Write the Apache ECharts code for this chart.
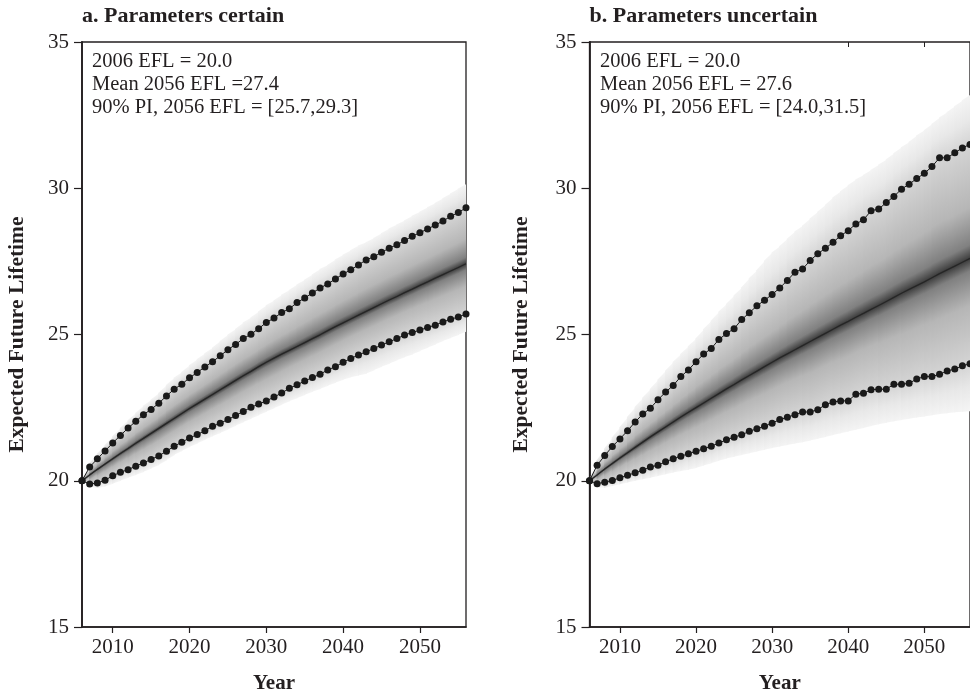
<!DOCTYPE html>
<html>
<head>
<meta charset="utf-8">
<title>Expected Future Lifetime</title>
<script src="https://cdn.jsdelivr.net/npm/echarts@6/dist/echarts.min.js"></script>
<style>
html, body { margin: 0; padding: 0; background: #fff; }
#chart { width: 970px; height: 699px; }
</style>
</head>
<body>
<div id="chart"></div>
<script>
// years of the projection (one dot per year)
var years = [2006, 2007, 2008, 2009, 2010, 2011, 2012, 2013, 2014, 2015,
    2016, 2017, 2018, 2019, 2020, 2021, 2022, 2023, 2024, 2025,
    2026, 2027, 2028, 2029, 2030, 2031, 2032, 2033, 2034, 2035,
    2036, 2037, 2038, 2039, 2040, 2041, 2042, 2043, 2044, 2045,
    2046, 2047, 2048, 2049, 2050, 2051, 2052, 2053, 2054, 2055, 2056];
var xTickValues = [2010, 2020, 2030, 2040, 2050];

// a. parameters certain
var aUpper = [20.00, 20.47, 20.75, 21.02, 21.29, 21.55, 21.80, 22.03, 22.26, 22.44,
    22.65, 22.90, 23.13, 23.30, 23.52, 23.70, 23.89, 24.07, 24.27, 24.48,
    24.66, 24.86, 25.01, 25.20, 25.41, 25.56, 25.75, 25.88, 26.09, 26.25,
    26.42, 26.59, 26.73, 26.90, 27.07, 27.21, 27.38, 27.55, 27.66, 27.81,
    27.95, 28.07, 28.21, 28.36, 28.48, 28.61, 28.74, 28.88, 29.04, 29.17, 29.33];
var aMean = [20.00, 20.20, 20.39, 20.57, 20.75, 20.93, 21.10, 21.28, 21.45, 21.62,
    21.79, 21.96, 22.13, 22.30, 22.47, 22.63, 22.79, 22.95, 23.11, 23.27,
    23.43, 23.59, 23.74, 23.90, 24.05, 24.19, 24.33, 24.46, 24.59, 24.72,
    24.86, 24.99, 25.13, 25.27, 25.40, 25.53, 25.66, 25.79, 25.92, 26.05,
    26.18, 26.30, 26.43, 26.55, 26.68, 26.80, 26.93, 27.05, 27.17, 27.29, 27.42];
var aLower = [20.00, 19.89, 19.92, 20.02, 20.17, 20.29, 20.38, 20.50, 20.61, 20.73,
    20.85, 21.01, 21.18, 21.32, 21.46, 21.58, 21.71, 21.86, 21.97, 22.09,
    22.23, 22.37, 22.51, 22.62, 22.73, 22.86, 23.00, 23.16, 23.28, 23.41,
    23.53, 23.64, 23.79, 23.90, 24.05, 24.18, 24.30, 24.41, 24.52, 24.64,
    24.75, 24.86, 24.98, 25.07, 25.15, 25.24, 25.32, 25.43, 25.52, 25.60, 25.70];
var aFanTop = [20.00, 20.60, 20.92, 21.22, 21.52, 21.80, 22.07, 22.32, 22.56, 22.77,
    23.00, 23.27, 23.52, 23.72, 23.95, 24.15, 24.36, 24.55, 24.78, 24.99,
    25.19, 25.41, 25.58, 25.79, 26.00, 26.16, 26.36, 26.52, 26.71, 26.87,
    27.05, 27.24, 27.38, 27.56, 27.73, 27.88, 28.04, 28.15, 28.30, 28.46,
    28.62, 28.76, 28.90, 29.06, 29.20, 29.35, 29.50, 29.66, 29.82, 29.98, 30.15];
var aFanBottom = [20.00, 19.80, 19.75, 19.80, 19.90, 20.00, 20.10, 20.20, 20.30, 20.42,
    20.54, 20.70, 20.88, 21.02, 21.15, 21.27, 21.40, 21.52, 21.63, 21.75,
    21.88, 22.00, 22.12, 22.24, 22.36, 22.48, 22.60, 22.72, 22.82, 22.93,
    23.04, 23.14, 23.25, 23.35, 23.45, 23.54, 23.60, 23.66, 23.78, 23.90,
    24.00, 24.12, 24.22, 24.32, 24.44, 24.55, 24.66, 24.78, 24.88, 24.98, 25.10];

// b. parameters uncertain
var bUpper = [20.00, 20.53, 20.86, 21.17, 21.43, 21.71, 22.01, 22.28, 22.48, 22.77,
    23.03, 23.26, 23.56, 23.79, 24.07, 24.33, 24.52, 24.83, 25.03, 25.20,
    25.51, 25.74, 25.98, 26.17, 26.37, 26.59, 26.85, 27.13, 27.24, 27.53,
    27.76, 27.95, 28.15, 28.38, 28.55, 28.78, 28.92, 29.23, 29.29, 29.51,
    29.72, 29.97, 30.14, 30.33, 30.51, 30.74, 31.04, 31.04, 31.21, 31.38, 31.50];
var bMean = [20.00, 20.20, 20.40, 20.59, 20.78, 20.96, 21.14, 21.32, 21.50, 21.67,
    21.84, 22.01, 22.18, 22.34, 22.50, 22.66, 22.82, 22.98, 23.14, 23.29,
    23.45, 23.60, 23.75, 23.90, 24.05, 24.20, 24.34, 24.48, 24.62, 24.76,
    24.90, 25.04, 25.18, 25.32, 25.45, 25.59, 25.72, 25.86, 25.99, 26.13,
    26.27, 26.41, 26.54, 26.67, 26.80, 26.94, 27.08, 27.21, 27.34, 27.47, 27.60];
var bLower = [20.00, 19.90, 19.95, 20.01, 20.10, 20.19, 20.27, 20.36, 20.47, 20.53,
    20.65, 20.75, 20.84, 20.92, 21.01, 21.09, 21.18, 21.29, 21.40, 21.49,
    21.57, 21.69, 21.78, 21.86, 21.97, 22.09, 22.17, 22.26, 22.35, 22.35,
    22.43, 22.60, 22.69, 22.73, 22.73, 22.96, 22.99, 23.11, 23.13, 23.13,
    23.30, 23.30, 23.33, 23.48, 23.56, 23.56, 23.64, 23.75, 23.82, 23.93, 24.00];
var bFanTop = [20.00, 20.70, 21.10, 21.48, 21.83, 22.18, 22.52, 22.84, 23.14, 23.45,
    23.76, 24.06, 24.33, 24.60, 24.86, 25.18, 25.47, 25.78, 26.04, 26.33,
    26.61, 26.92, 27.20, 27.52, 27.80, 28.02, 28.27, 28.52, 28.72, 28.97,
    29.20, 29.43, 29.68, 29.90, 30.10, 30.30, 30.45, 30.62, 30.80, 30.98,
    31.20, 31.40, 31.58, 31.80, 31.98, 32.20, 32.42, 32.60, 32.80, 33.00, 33.20];
var bFanBottom = [20.00, 19.78, 19.76, 19.82, 19.88, 19.94, 20.00, 20.05, 20.10, 20.16,
    20.22, 20.28, 20.33, 20.38, 20.44, 20.52, 20.60, 20.68, 20.76, 20.82,
    20.88, 20.94, 21.00, 21.06, 21.12, 21.17, 21.22, 21.27, 21.32, 21.38,
    21.44, 21.50, 21.56, 21.62, 21.68, 21.74, 21.80, 21.87, 21.93, 21.98,
    22.03, 22.08, 22.12, 22.16, 22.20, 22.24, 22.28, 22.31, 22.34, 22.36, 22.38];

var panelTitles = ['a. Parameters certain', 'b. Parameters uncertain'];
var aNotes = ['2006 EFL = 20.0', 'Mean 2056 EFL =27.4', '90% PI, 2056 EFL = [25.7,29.3]'];
var bNotes = ['2006 EFL = 20.0', 'Mean 2056 EFL = 27.6', '90% PI, 2056 EFL = [24.0,31.5]'];

var serif = "'Liberation Serif', 'DejaVu Serif', serif";
var ink = '#231f20';
var gridLeft = [82, 589.5];

function pairs(vals) {
    return years.map(function (y, i) { return [y, vals[i]]; });
}

// one row per yearly step of the fan
function fanRows(top, bottom, upper, mean, lower) {
    var rows = [];
    for (var i = 0; i < years.length - 1; i++) {
        rows.push([years[i], years[i + 1], top[i], top[i + 1], bottom[i], bottom[i + 1],
            upper[i], upper[i + 1], mean[i], mean[i + 1], lower[i], lower[i + 1]]);
    }
    return rows;
}

function renderFan(params, api) {
    var x0 = api.value(0), x1 = api.value(1);
    var t0 = api.coord([x0, api.value(2)]), t1 = api.coord([x1, api.value(3)]);
    var b0 = api.coord([x0, api.value(4)]), b1 = api.coord([x1, api.value(5)]);
    var m0 = api.coord([x0, api.value(8)]), m1 = api.coord([x1, api.value(9)]);
    var xm = (x0 + x1) / 2;
    function mid(k) {
        return api.coord([xm, (api.value(k) + api.value(k + 1)) / 2])[1];
    }
    var yt = mid(2), yb = mid(4), yu = mid(6), ym = mid(8), yl = mid(10);
    var h = Math.max(yb - yt, 0.5);
    var pu = (yu - yt) / h, pm = (ym - yt) / h, pl = (yl - yt) / h;
    var raw = [
        [0, '#f4f4f4'],
        [pu * 0.5, '#e8e8e8'],
        [pu, '#d4d4d4'],
        [pu + (pm - pu) * 0.55, '#b6b6b6'],
        [pm - (pm - pu) * 0.12, '#808080'],
        [pm, '#3c3c3c'],
        [pm + (pl - pm) * 0.12, '#808080'],
        [pm + (pl - pm) * 0.45, '#b6b6b6'],
        [pl, '#d4d4d4'],
        [pl + (1 - pl) * 0.5, '#e8e8e8'],
        [1, '#f4f4f4']
    ];
    var stops = [], prev = -1;
    raw.forEach(function (s) {
        var off = Math.min(1, Math.max(s[0], prev + 0.0001, 0));
        prev = off;
        stops.push({ offset: off, color: s[1] });
    });
    // tilt the gradient so its bands run along the mean line
    var dx = m1[0] - m0[0], dy = m1[1] - m0[1];
    var len = Math.sqrt(dx * dx + dy * dy) || 1;
    var xc = (t0[0] + t1[0]) / 2;
    var proj = h * dx / len;
    var gx2 = xc - dy / len * proj, gy2 = yt + dx / len * proj;
    return {
        type: 'polygon',
        shape: {
            points: [[t0[0] - 0.6, t0[1]], [t1[0] + 0.6, t1[1]], [b1[0] + 0.6, b1[1]], [b0[0] - 0.6, b0[1]]]
        },
        style: {
            fill: new echarts.graphic.LinearGradient(xc, yt, gx2, gy2, stops, true)
        }
    };
}

function panelSeries(idx, top, bottom, upper, mean, lower) {
    var dots = {
        type: 'line',
        xAxisIndex: idx, yAxisIndex: idx,
        symbol: 'circle', symbolSize: 7,
        itemStyle: { color: '#1a1a1a' },
        lineStyle: { color: '#1a1a1a', width: 1 },
        z: 4, silent: true, animation: false
    };
    return [
        {
            type: 'custom',
            xAxisIndex: idx, yAxisIndex: idx,
            renderItem: renderFan,
            data: fanRows(top, bottom, upper, mean, lower),
            encode: { x: [0, 1], y: [2, 3, 4, 5] },
            clip: true, z: 1, silent: true, animation: false
        },
        {
            type: 'line',
            xAxisIndex: idx, yAxisIndex: idx,
            data: pairs(mean), symbol: 'none',
            lineStyle: { color: '#262626', width: 1.3 },
            z: 3, silent: true, animation: false
        },
        Object.assign({ data: pairs(upper) }, dots),
        Object.assign({ data: pairs(lower) }, dots)
    ];
}

function xAxisFor(idx) {
    return {
        type: 'value', gridIndex: idx, min: 2006, max: 2056,
        axisLine: { onZero: false, lineStyle: { color: ink, width: 1.6 } },
        axisTick: { customValues: xTickValues, length: 6, lineStyle: { color: ink, width: 1.2 } },
        axisLabel: {
            customValues: xTickValues, margin: 10, fontFamily: serif, fontSize: 21, color: ink,
            formatter: function (v) { return String(v); }
        },
        splitLine: { show: false },
        name: 'Year', nameLocation: 'middle', nameGap: 46,
        nameTextStyle: { fontFamily: serif, fontSize: 21, fontWeight: 'bold', color: ink }
    };
}

function yAxisFor(idx, gap) {
    return {
        type: 'value', gridIndex: idx, min: 15, max: 35, interval: 5,
        axisLine: { show: true, onZero: false, lineStyle: { color: ink, width: 1.8 } },
        axisTick: { show: true, length: 8, lineStyle: { color: ink, width: 1.2 } },
        axisLabel: { margin: 13, fontFamily: serif, fontSize: 21, color: ink },
        splitLine: { show: false },
        name: 'Expected Future Lifetime', nameLocation: 'middle', nameGap: gap,
        nameTextStyle: { fontFamily: serif, fontSize: 21.5, fontWeight: 'bold', color: ink }
    };
}

function noteTexts(left, lines) {
    return lines.map(function (t, i) {
        return {
            type: 'text', x: left, y: 62 + i * 23, silent: true,
            style: { text: t, font: '20.5px ' + serif, fill: ink, verticalAlign: 'middle' }
        };
    });
}

var option = {
    backgroundColor: '#fff',
    animation: false,
    title: panelTitles.map(function (t, i) {
        return {
            text: t, left: gridLeft[i], top: 5, padding: 0,
            textStyle: { fontFamily: serif, fontSize: 22, fontWeight: 'bold', color: ink }
        };
    }),
    grid: [
        { left: gridLeft[0], top: 42, width: 384, height: 588, show: true, borderColor: ink, borderWidth: 1.3, backgroundColor: 'transparent' },
        { left: gridLeft[1], top: 42, width: 384.3, height: 588, show: true, borderColor: ink, borderWidth: 1.3, backgroundColor: 'transparent' }
    ],
    xAxis: [
        xAxisFor(0),
        xAxisFor(1),
        {
            type: 'value', gridIndex: 1, position: 'top', min: 2006, max: 2056,
            axisLine: { show: false },
            axisTick: { inside: true, customValues: [2040, 2050], length: 5, lineStyle: { color: ink } },
            axisLabel: { show: false }, splitLine: { show: false }
        }
    ],
    yAxis: [yAxisFor(0, 54), yAxisFor(1, 57)],
    graphic: noteTexts(92, aNotes).concat(noteTexts(600, bNotes)),
    series: panelSeries(0, aFanTop, aFanBottom, aUpper, aMean, aLower)
        .concat(panelSeries(1, bFanTop, bFanBottom, bUpper, bMean, bLower))
};

var myChart = echarts.init(document.getElementById('chart'), null, { renderer: 'canvas' });
myChart.setOption(option);
</script>
</body>
</html>
